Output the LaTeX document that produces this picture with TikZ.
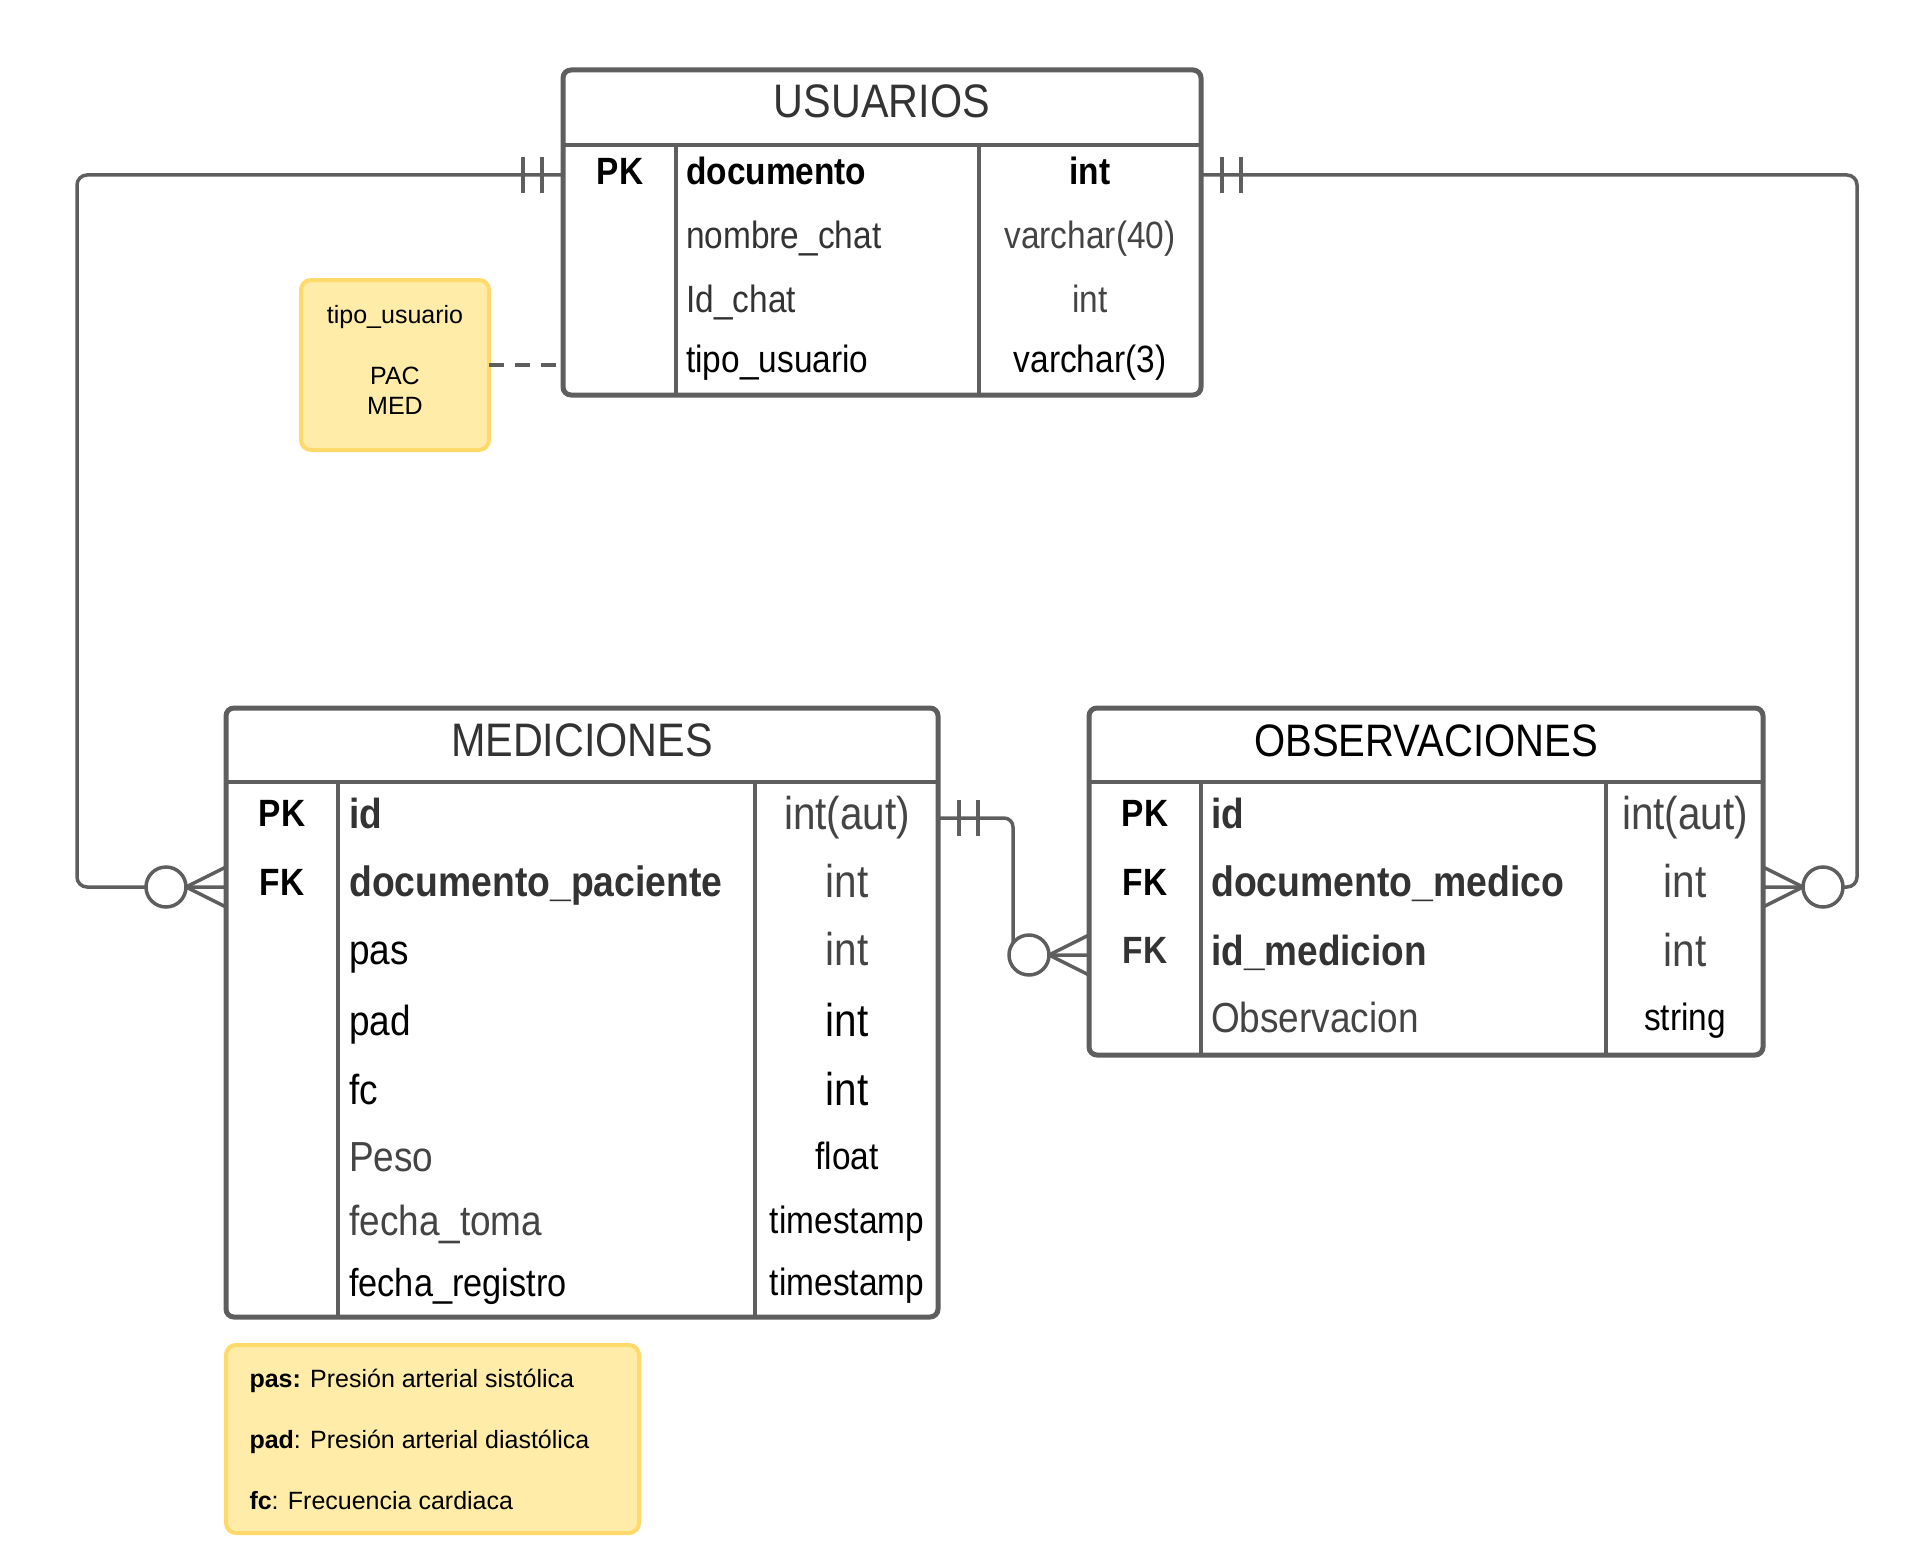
\documentclass[tikz,border=0pt]{standalone}
\usepackage{fontspec}
\setmainfont{Liberation Sans}
\newfontfamily\tfont[FakeStretch=0.88]{Liberation Sans}
\usetikzlibrary{calc}
\definecolor{lg}{HTML}{5E5E5E}
\definecolor{tdark}{HTML}{333333}
\definecolor{tmid}{HTML}{444444}
\definecolor{notefill}{HTML}{FFECA8}
\definecolor{noteline}{HTML}{FFDA6A}
\newcommand\fsz[1]{\fontsize{#1}{#1}\selectfont}

\begin{document}
\begin{tikzpicture}[x=1pt,y=-1pt,
  tbl/.style={draw=lg, line width=5pt, rounded corners=8pt, fill=white, inner sep=0pt, outer sep=0pt, anchor=north west},
  divline/.style={draw=lg, line width=4.5pt},
  rowref/.style={inner sep=0pt, outer sep=0pt, minimum height=2pt},
  ttl/.style={anchor=base, inner sep=0pt, text=tdark, font=\tfont\fsz{47}},
  pkfk/.style={anchor=base, inner sep=0pt, text=black, font=\tfont\bfseries\fsz{38}},
  fld/.style={anchor=base west, inner sep=0pt, text=tdark},
  typ/.style={anchor=base, inner sep=0pt, text=tmid},
  conn/.style={draw=lg, line width=3.5pt},
  notebox/.style={draw=noteline, fill=notefill, line width=4pt, rounded corners=10pt, inner sep=0pt, outer sep=0pt}
]
\fill[white] (0,0) rectangle (1928,1568);
\useasboundingbox (0,0) rectangle (1928,1568);

% ---------------- USUARIOS ----------------
\node[tbl, minimum width=638pt, minimum height=325pt] (usr) at (563,70) {};
\draw[divline] (563,145) -- (1201,145);
\draw[divline] (676,145) -- (676,395);
\draw[divline] (979,145) -- (979,395);
\node[ttl] (usr-t) at (882,118) {USUARIOS};
\node[rowref, minimum width=638pt] (usr-r1) at (882,175) {};
\node[rowref, minimum width=638pt] (usr-r2) at (882,239) {};
\node[rowref, minimum width=638pt] (usr-r3) at (882,301) {};
\node[rowref, minimum width=638pt] (usr-r4) at (882,365) {};
\node[pkfk] (usr-k1) at (620,184) {PK};
\node[fld, text=black, font=\tfont\bfseries\fsz{38}] (usr-f1) at (686,184) {documento};
\node[typ, text=black, font=\tfont\bfseries\fsz{38}] (usr-y1) at (1090,184) {int};
\node[fld, font=\tfont\fsz{38}] (usr-f2) at (686,248.5) {nombre\_chat};
\node[typ, font=\tfont\fsz{38}] (usr-y2) at (1090,248.5) {varchar(40)};
\node[fld, font=\tfont\fsz{38}] (usr-f3) at (686,312.5) {Id\_chat};
\node[typ, font=\tfont\fsz{38}] (usr-y3) at (1090,312.5) {int};
\node[fld, text=black, font=\tfont\fsz{38}] (usr-f4) at (686,372.5) {tipo\_usuario};
\node[typ, text=black, font=\tfont\fsz{38}] (usr-y4) at (1090,372.5) {varchar(3)};

% ---------------- MEDICIONES ----------------
\node[tbl, minimum width=712pt, minimum height=609pt] (med) at (226,708) {};
\draw[divline] (226,782) -- (938,782);
\draw[divline] (338,782) -- (338,1317);
\draw[divline] (755,782) -- (755,1317);
\node[ttl] (med-t) at (582,756) {MEDICIONES};
\node[rowref, minimum width=712pt] (med-r1) at (582,818) {};
\node[rowref, minimum width=712pt] (med-r2) at (582,887) {};
\node[pkfk] (med-k1) at (282,826.5) {PK};
\node[pkfk] (med-k2) at (282,895.5) {FK};
\node[fld, font=\tfont\bfseries\fsz{42}] (med-f1) at (349,828) {id};
\node[typ, font=\tfont\fsz{46}] (med-y1) at (847,829.5) {int(aut)};
\node[fld, font=\tfont\bfseries\fsz{42.4}] (med-f2) at (349,896) {documento\_paciente};
\node[typ, font=\tfont\fsz{46}] (med-y2) at (847,897.5) {int};
\node[fld, text=black, font=\tfont\fsz{42}] (med-f3) at (349,964) {pas};
\node[typ, font=\tfont\fsz{46}] (med-y3) at (847,965.5) {int};
\node[fld, text=black, font=\tfont\fsz{42}] (med-f4) at (349,1035) {pad};
\node[typ, text=black, font=\tfont\fsz{46}] (med-y4) at (847,1036.5) {int};
\node[fld, text=black, font=\tfont\fsz{42}] (med-f5) at (349,1104) {fc};
\node[typ, text=black, font=\tfont\fsz{46}] (med-y5) at (847,1105.5) {int};
\node[fld, text=tmid, font=\tfont\fsz{42}] (med-f6) at (349,1171) {Peso};
\node[typ, text=black, font=\tfont\fsz{38}] (med-y6) at (847,1169.5) {float};
\node[fld, text=tmid, font=\tfont\fsz{42}] (med-f7) at (349,1235) {fecha\_toma};
\node[typ, text=black, font=\tfont\fsz{38}] (med-y7) at (847,1233.5) {timestamp};
\node[fld, text=black, font=\tfont\fsz{39}] (med-f8) at (349,1296) {fecha\_registro};
\node[typ, text=black, font=\tfont\fsz{38}] (med-y8) at (847,1295.5) {timestamp};

% ---------------- OBSERVACIONES ----------------
\node[tbl, minimum width=674pt, minimum height=347pt] (obs) at (1089,708) {};
\draw[divline] (1089,782) -- (1763,782);
\draw[divline] (1201,782) -- (1201,1055);
\draw[divline] (1606,782) -- (1606,1055);
\node[ttl, text=black, font=\tfont\fsz{45.5}] (obs-t) at (1426,756) {OBSERVACIONES};
\node[rowref, minimum width=674pt] (obs-r1) at (1426,818) {};
\node[rowref, minimum width=674pt] (obs-r2) at (1426,887) {};
\node[rowref, minimum width=674pt] (obs-r3) at (1426,955) {};
\node[pkfk] (obs-k1) at (1145,826.5) {PK};
\node[pkfk] (obs-k2) at (1145,895.5) {FK};
\node[pkfk, text=tdark] (obs-k3) at (1145,963.5) {FK};
\node[fld, font=\tfont\bfseries\fsz{42}] (obs-f1) at (1211,828) {id};
\node[typ, font=\tfont\fsz{46}] (obs-y1) at (1685,829.5) {int(aut)};
\node[fld, font=\tfont\bfseries\fsz{42.5}] (obs-f2) at (1211,896) {documento\_medico};
\node[typ, font=\tfont\fsz{46}] (obs-y2) at (1685,897.5) {int};
\node[fld, font=\tfont\bfseries\fsz{42}] (obs-f3) at (1211,965) {id\_medicion};
\node[typ, font=\tfont\fsz{46}] (obs-y3) at (1685,966.5) {int};
\node[fld, text=tmid, font=\tfont\fsz{42}] (obs-f4) at (1211,1032) {Observacion};
\node[typ, text=black, font=\tfont\fsz{38}] (obs-y4) at (1685,1030.5) {string};

% ---------------- notes ----------------
\node[notebox, minimum width=188pt, minimum height=170pt] (note1) at (395,365) {};
\node[align=flush center, inner sep=0pt, font=\fontsize{25}{30.5}\selectfont]
  (note1-txt) at (395,360) {tipo\_usuario\\[30.5pt]PAC\\MED};
\node[notebox, minimum width=413pt, minimum height=188pt, align=flush left, text width=366pt,
      font=\fontsize{25}{61}\selectfont] (note2) at (432.5,1439)
  {\textbf{pas:} Presión arterial sistólica\\
   \textbf{pad}: Presión arterial diastólica\\
   \textbf{fc}: Frecuencia cardiaca};

% ---------------- relationships ----------------
\draw[conn, dash pattern=on 15pt off 11pt] (note1.east) -- (usr-r4.west);

% USUARIOS (1) -- (0..n) MEDICIONES
\draw[conn, rounded corners=10pt] (usr-r1.west) -- (77,175) -- (77,887) -- (med-r2.west);
\draw[conn] ($(usr-r1.west)+(-40,-18)$) -- ++(0,36);
\draw[conn] ($(usr-r1.west)+(-21,-18)$) -- ++(0,36);
\draw[conn] ($(med-r2.west)+(0,-20)$) -- ($(med-r2.west)+(-40,0)$) -- ($(med-r2.west)+(0,20)$);
\draw[conn, fill=white] ($(med-r2.west)+(-60,0)$) circle[radius=20pt];

% USUARIOS (1) -- (0..n) OBSERVACIONES
\draw[conn, rounded corners=10pt] (usr-r1.east) -- (1857,175) -- (1857,887) -- (obs-r2.east);
\draw[conn] ($(usr-r1.east)+(40,-18)$) -- ++(0,36);
\draw[conn] ($(usr-r1.east)+(21,-18)$) -- ++(0,36);
\draw[conn] ($(obs-r2.east)+(0,-20)$) -- ($(obs-r2.east)+(40,0)$) -- ($(obs-r2.east)+(0,20)$);
\draw[conn, fill=white] ($(obs-r2.east)+(60,0)$) circle[radius=20pt];

% MEDICIONES (1) -- (0..n) OBSERVACIONES
\draw[conn, rounded corners=9pt] (med-r1.east) -- (1013,818) -- (1013,955) -- (obs-r3.west);
\draw[conn] ($(med-r1.east)+(40,-18)$) -- ++(0,36);
\draw[conn] ($(med-r1.east)+(21,-18)$) -- ++(0,36);
\draw[conn] ($(obs-r3.west)+(0,-20)$) -- ($(obs-r3.west)+(-40,0)$) -- ($(obs-r3.west)+(0,20)$);
\draw[conn, fill=white] ($(obs-r3.west)+(-60,0)$) circle[radius=20pt];
\end{tikzpicture}
\end{document}
